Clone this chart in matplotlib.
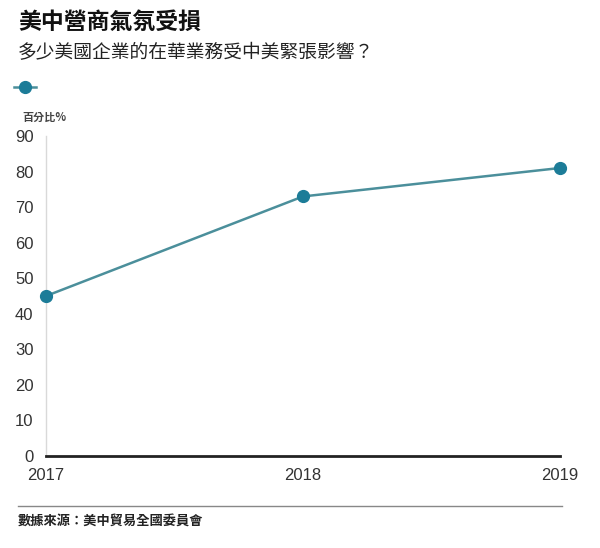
import matplotlib
matplotlib.use("Agg")
import matplotlib.pyplot as plt
from matplotlib.lines import Line2D

plt.rcParams['font.family'] = ['Noto Sans CJK TC', 'DejaVu Sans']

years = ["2017", "2018", "2019"]
values = [45, 73, 81]
yticks = [0, 10, 20, 30, 40, 50, 60, 70, 80, 90]

title = "美中營商氣氛受損"
subtitle = "多少美國企業的在華業務受中美緊張影響？"
unit = "百分比%"
source = "數據來源：美中貿易全國委員會"

W, H = 600, 548
fig = plt.figure(figsize=(W / 100, H / 100), dpi=100)
fig.patch.set_facecolor("white")

ax = fig.add_axes([46 / W, (H - 456) / H, (560 - 46) / W, (456 - 136) / H])
x = list(range(len(years)))
ax.plot(x, values, color="#4b8f9b", lw=1.8, zorder=3, clip_on=False)
ax.plot(x, values, "o", color="#1c7c98", ms=8.5, zorder=4, clip_on=False)

num_font = dict(family=['Liberation Sans', 'DejaVu Sans'], size=12, color="#333333")
ax.set_xlim(0, len(years) - 1)
ax.set_ylim(0, 90)
ax.set_yticks(yticks)
ax.set_yticklabels([str(v) for v in yticks], **num_font)
ax.set_xticks(x)
ax.set_xticklabels(years, **num_font)
ax.tick_params(axis="both", length=0)
ax.tick_params(axis="y", pad=9)
ax.tick_params(axis="x", pad=9)
for s in ["top", "right"]:
    ax.spines[s].set_visible(False)
ax.spines["left"].set_color("#d9d9d9")
ax.spines["left"].set_linewidth(1.0)
ax.spines["bottom"].set_color("#222222")
ax.spines["bottom"].set_linewidth(2.0)

fig.text(18 / W, 1 - 22 / H, title, fontsize=16.5, fontweight="bold", color="#111111", va="center")
fig.text(18 / W, 1 - 53 / H, subtitle, fontsize=13.5, color="#222222", va="center")

fig.add_artist(Line2D([14 / W, 36 / W], [1 - 87 / H, 1 - 87 / H], transform=fig.transFigure,
                      color="#4b8f9b", lw=1.8))
fig.add_artist(Line2D([25 / W], [1 - 87 / H], transform=fig.transFigure,
                      marker="o", color="#1c7c98", ms=8.5, lw=0))

fig.text(22 / W, 1 - 117 / H, unit, fontsize=8, fontweight="bold", color="#444444", va="center")

fig.add_artist(Line2D([18 / W, 562 / W], [1 - 506 / H, 1 - 506 / H], transform=fig.transFigure,
                      color="#888888", lw=1.0))
fig.text(18 / W, 1 - 521 / H, source, fontsize=9.5, fontweight="bold", color="#222222", va="center")

fig.savefig("out.png", dpi=100, facecolor="white")
